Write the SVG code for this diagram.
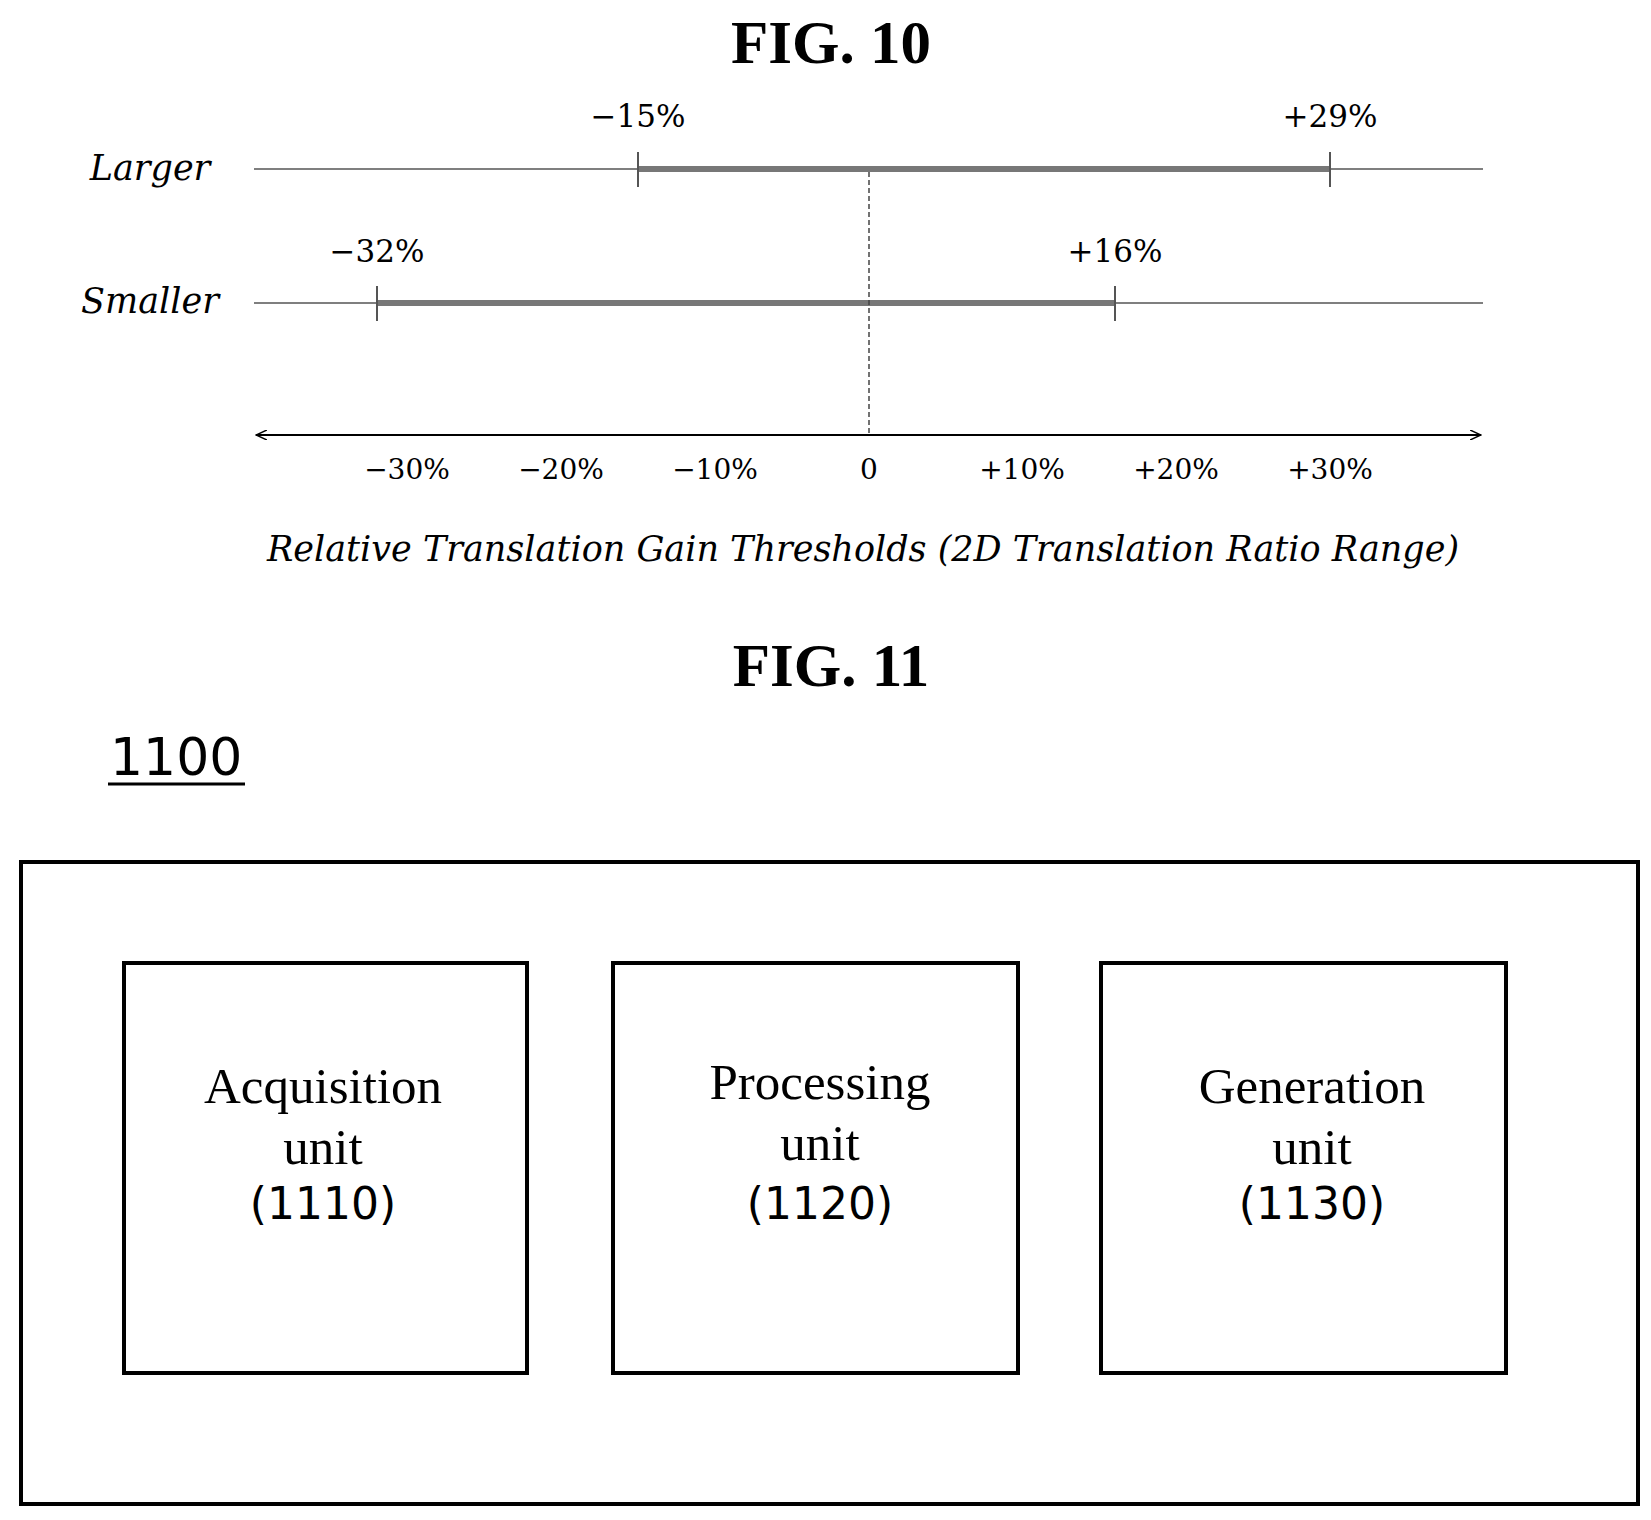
<svg xmlns="http://www.w3.org/2000/svg" width="1651" height="1520" viewBox="0 0 1651 1520">
<style>
.fig{font-family:"Liberation Serif",serif;font-weight:bold;font-size:61px;text-anchor:middle}
.it{font-family:"DejaVu Serif","Liberation Serif",serif;font-style:italic;font-size:35px;text-anchor:middle}
.lab{font-family:"DejaVu Serif","Liberation Serif",serif;font-size:31px;text-anchor:middle}
.box{fill:none;stroke:#000;stroke-width:4}
.nt{font-family:"Liberation Serif",serif;font-size:51px;text-anchor:middle}
.ns{font-family:"DejaVu Sans","Liberation Sans",sans-serif;font-size:44px;text-anchor:middle}
</style>
<defs>
<marker id="ah" markerWidth="12" markerHeight="10" refX="11" refY="5" orient="auto-start-reverse" markerUnits="userSpaceOnUse">
<path d="M0,0 L11,5 L0,10" fill="none" stroke="#000" stroke-width="1.5"/>
</marker>
</defs>
<text class="fig" x="831" y="63">FIG. 10</text>
<text class="it" x="150" y="180">Larger</text>
<text class="it" x="150" y="313">Smaller</text>
<g id="connectors">
<line x1="254" y1="169" x2="1483" y2="169" stroke="#555" stroke-width="1.5"/>
<line x1="638" y1="169" x2="1330" y2="169" stroke="#777" stroke-width="6"/>
<line x1="638" y1="152" x2="638" y2="187" stroke="#555" stroke-width="2"/>
<line x1="1330" y1="152" x2="1330" y2="187" stroke="#555" stroke-width="2"/>
<line x1="254" y1="303" x2="1483" y2="303" stroke="#555" stroke-width="1.5"/>
<line x1="377" y1="303" x2="1115" y2="303" stroke="#777" stroke-width="6"/>
<line x1="377" y1="286" x2="377" y2="321" stroke="#555" stroke-width="2"/>
<line x1="1115" y1="286" x2="1115" y2="321" stroke="#555" stroke-width="2"/>
<line x1="869" y1="172" x2="869" y2="435" stroke="#444" stroke-width="1.5" stroke-dasharray="5,3"/>
<line x1="256" y1="435" x2="1481" y2="435" stroke="#000" stroke-width="2" marker-start="url(#ah)" marker-end="url(#ah)"/>
</g>
<text class="lab" x="638" y="127">−15%</text>
<text class="lab" x="1330" y="127">+29%</text>
<text class="lab" x="377" y="262">−32%</text>
<text class="lab" x="1115" y="262">+16%</text>
<g class="lab" style="font-size:28px">
<text x="407" y="479">−30%</text>
<text x="561" y="479">−20%</text>
<text x="715" y="479">−10%</text>
<text x="869" y="479">0</text>
<text x="1022" y="479">+10%</text>
<text x="1176" y="479">+20%</text>
<text x="1330" y="479">+30%</text>
</g>
<text class="it" x="863" y="561">Relative Translation Gain Thresholds (2D Translation Ratio Range)</text>
<text class="fig" x="831" y="686">FIG. 11</text>
<text x="110" y="775" font-family="'DejaVu Sans','Liberation Sans',sans-serif" font-size="52">1100</text>
<line x1="108" y1="784" x2="245" y2="784" stroke="#000" stroke-width="3"/>
<g id="n1100"><rect class="box" x="21" y="862" width="1617" height="642"/></g>
<g id="n1110"><rect class="box" x="124" y="963" width="403" height="410"/>
<text class="nt" x="323" y="1103">Acquisition</text><text class="nt" x="323" y="1164">unit</text><text class="ns" x="323" y="1219">(1110)</text></g>
<g id="n1120"><rect class="box" x="613" y="963" width="405" height="410"/>
<text class="nt" x="820" y="1099">Processing</text><text class="nt" x="820" y="1160">unit</text><text class="ns" x="820" y="1219">(1120)</text></g>
<g id="n1130"><rect class="box" x="1101" y="963" width="405" height="410"/>
<text class="nt" x="1312" y="1103">Generation</text><text class="nt" x="1312" y="1164">unit</text><text class="ns" x="1312" y="1219">(1130)</text></g>
</svg>
